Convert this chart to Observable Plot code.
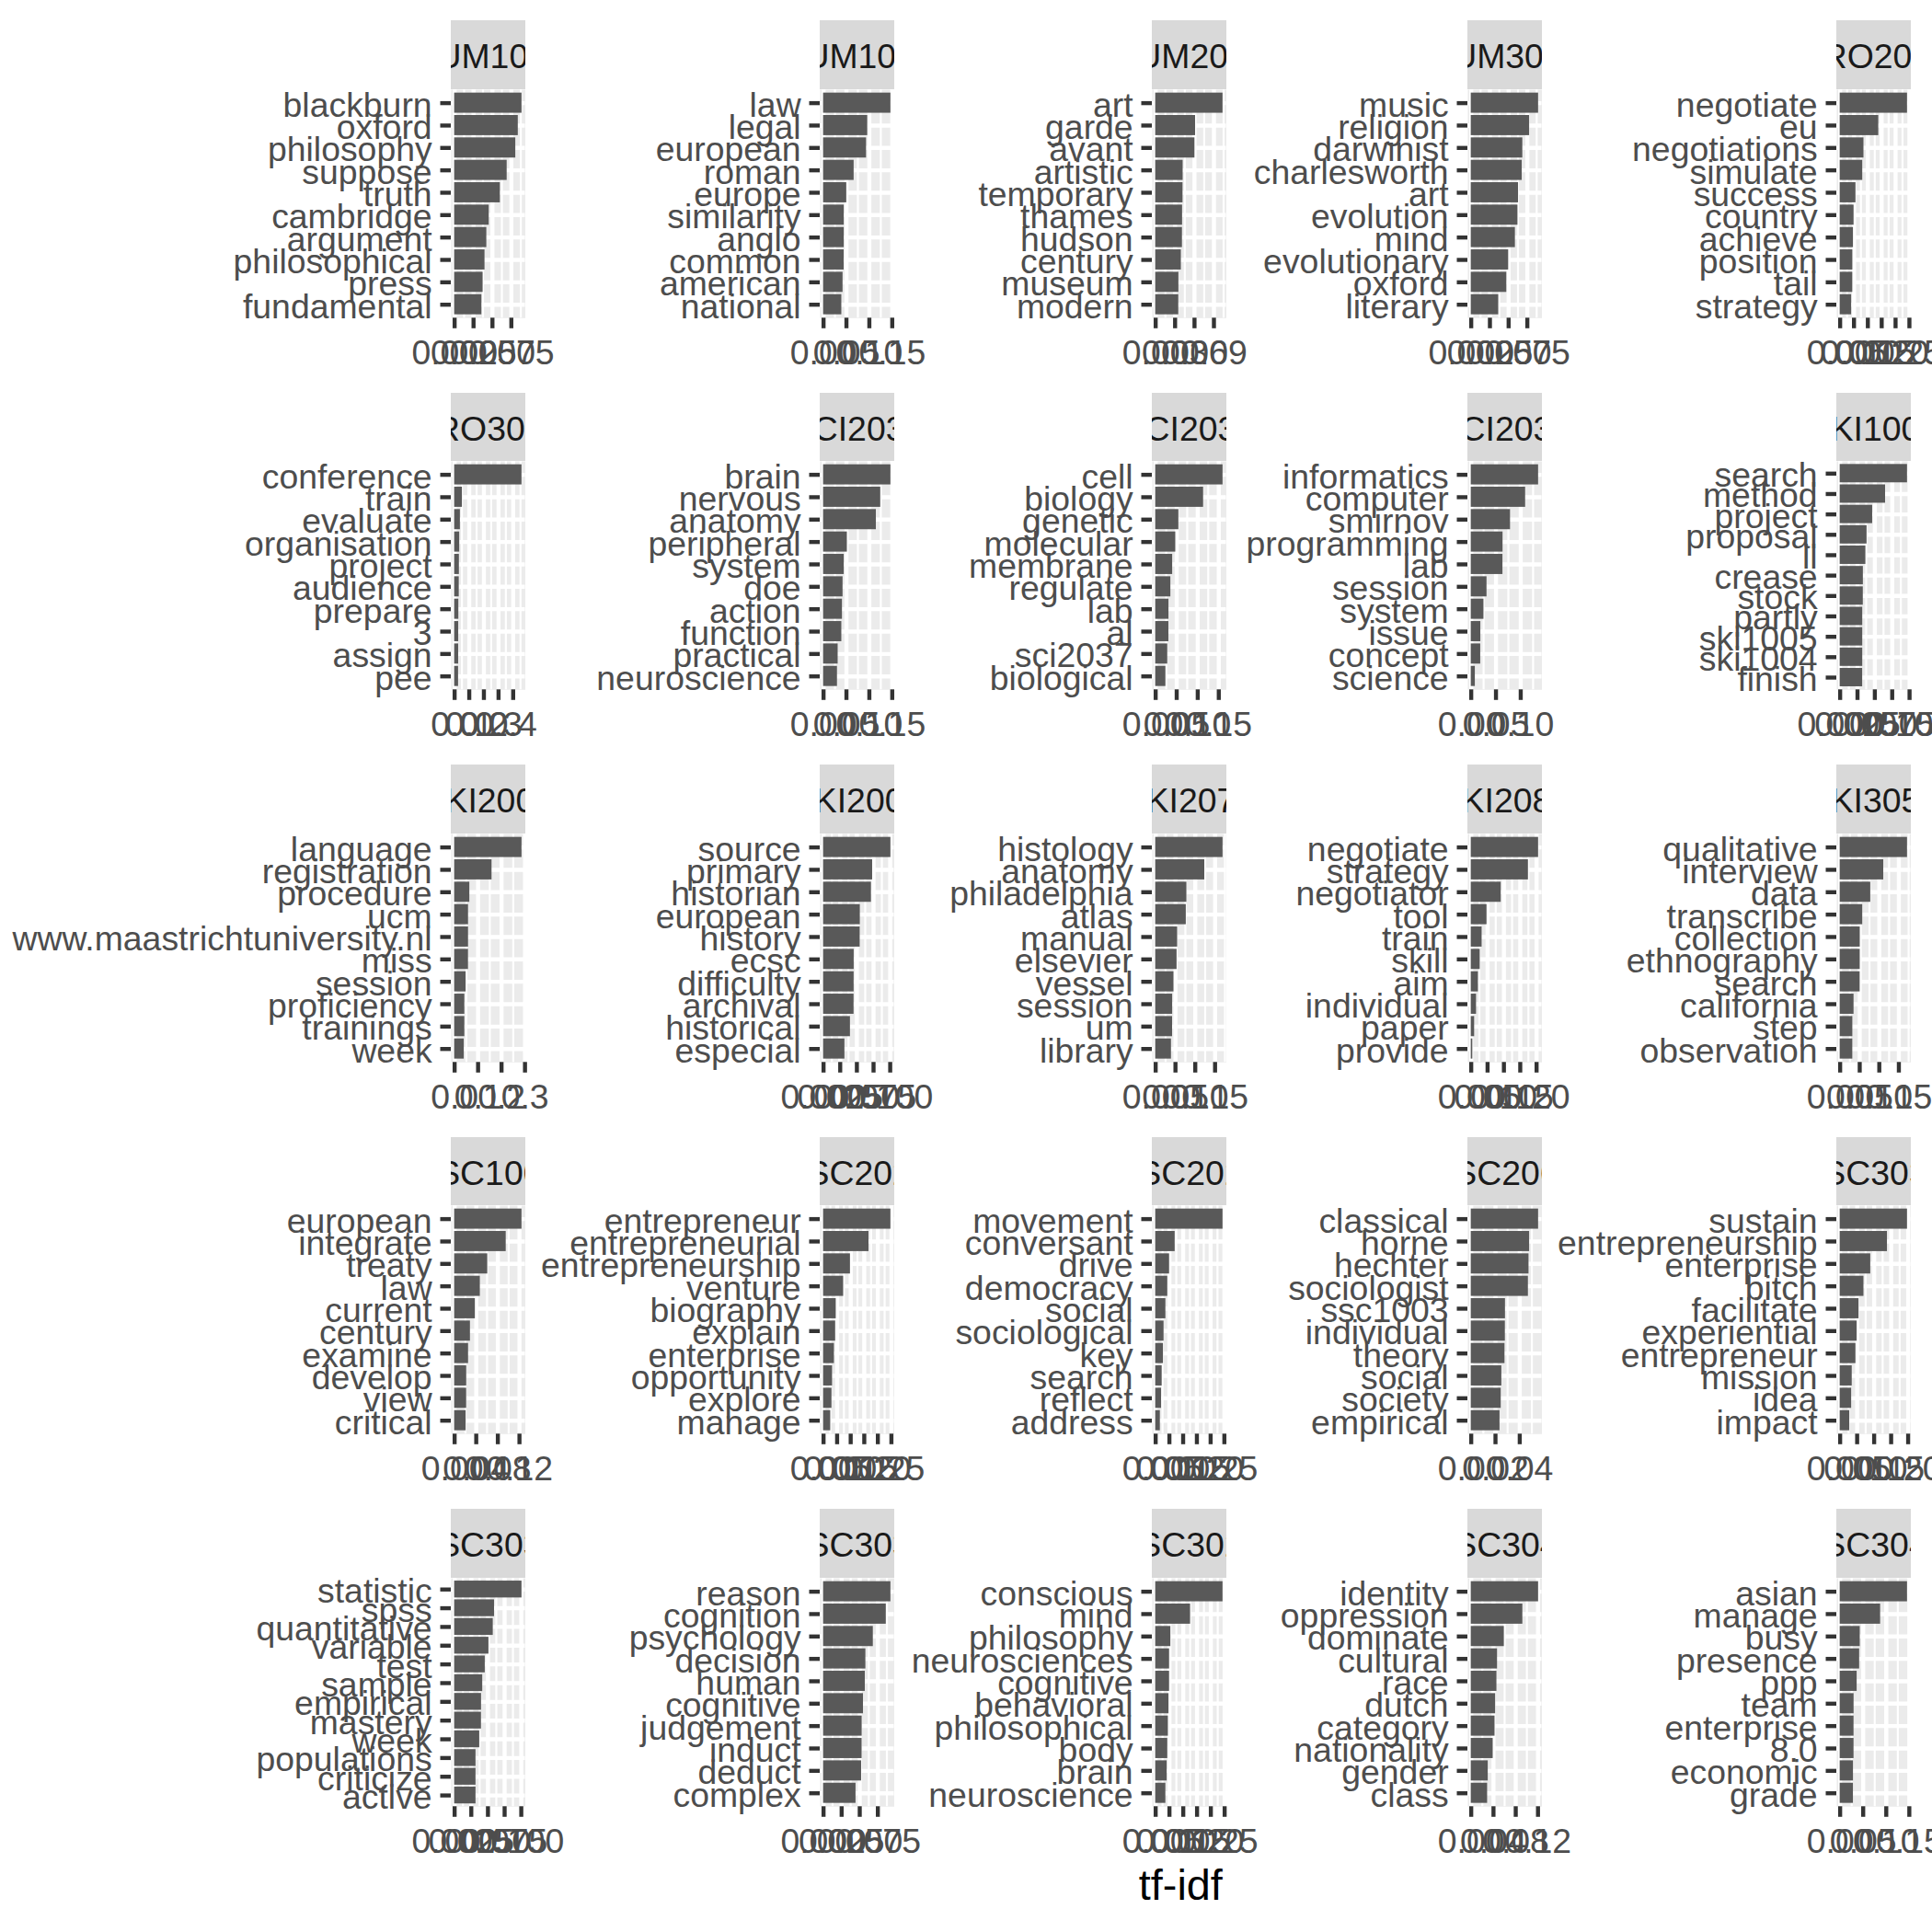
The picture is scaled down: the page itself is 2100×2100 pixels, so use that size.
<!DOCTYPE html>
<html><head><meta charset="utf-8">
<script src="https://cdn.jsdelivr.net/npm/d3@7"></script>
<script src="https://cdn.jsdelivr.net/npm/@observablehq/plot@0.6"></script>
<style>
html,body{margin:0;padding:0;background:#fff;}
#chart{position:relative;width:2100px;height:2100px;overflow:hidden;font-family:"Liberation Sans",Arial,sans-serif;}
.strip{position:absolute;background:#D9D9D9;overflow:hidden;}
.strip span{position:absolute;left:50%;top:calc(50% + 3px);transform:translate(-50%,-50%);white-space:nowrap;font-size:37.4px;color:#1A1A1A;line-height:1;}
.panel{position:absolute;}
.panel svg{max-width:none;overflow:visible;}
.xtitle{position:absolute;font-size:46.8px;color:#000;transform:translate(-50%,-50%);white-space:nowrap;line-height:1;}
</style></head>
<body><div id="chart"></div>
<script>
// ---- data ----
const facets = [
  "HUM1011","HUM1013","HUM2007","HUM3034","PRO2011",
  "PRO3012","SCI2033","SCI2035","SCI2039","SKI1008",
  "SKI2001","SKI2002","SKI2074","SKI2084","SKI3051",
  "SSC1009","SSC2025","SSC2029","SSC2061","SSC3033",
  "SSC3032","SSC3036","SSC3023","SSC3044","SSC3049"
];

const words = [
  ["blackburn","oxford","philosophy","suppose","truth","cambridge","argument","philosophical","press","fundamental"],
  ["law","legal","european","roman","europe","similarity","anglo","common","american","national"],
  ["art","garde","avant","artistic","temporary","thames","hudson","century","museum","modern"],
  ["music","religion","darwinist","charlesworth","art","evolution","mind","evolutionary","oxford","literary"],
  ["negotiate","eu","negotiations","simulate","success","country","achieve","position","tail","strategy"],
  ["conference","train","evaluate","organisation","project","audience","prepare","3","assign","pee"],
  ["brain","nervous","anatomy","peripheral","system","doe","action","function","practical","neuroscience"],
  ["cell","biology","genetic","molecular","membrane","regulate","lab","al","sci2037","biological"],
  ["informatics","computer","smirnov","programming","lab","session","system","issue","concept","science"],
  ["search","method","project","proposal","ll","crease","stock","partly","ski1005","ski1004","finish"],
  ["language","registration","procedure","ucm","www.maastrichtuniversity.nl","miss","session","proficiency","trainings","week"],
  ["source","primary","historian","european","history","ecsc","difficulty","archival","historical","especial"],
  ["histology","anatomy","philadelphia","atlas","manual","elsevier","vessel","session","um","library"],
  ["negotiate","strategy","negotiator","tool","train","skill","aim","individual","paper","provide"],
  ["qualitative","interview","data","transcribe","collection","ethnography","search","california","step","observation"],
  ["european","integrate","treaty","law","current","century","examine","develop","view","critical"],
  ["entrepreneur","entrepreneurial","entrepreneurship","venture","biography","explain","enterprise","opportunity","explore","manage"],
  ["movement","conversant","drive","democracy","social","sociological","key","search","reflect","address"],
  ["classical","horne","hechter","sociologist","ssc1003","individual","theory","social","society","empirical"],
  ["sustain","entrepreneurship","enterprise","bitch","facilitate","experiential","entrepreneur","mission","idea","impact"],
  ["statistic","spss","quantitative","variable","test","sample","empirical","mastery","week","populations","criticize","active"],
  ["reason","cognition","psychology","decision","human","cognitive","judgement","induct","deduct","complex"],
  ["conscious","mind","philosophy","neurosciences","cognitive","behavioral","philosophical","body","brain","neuroscience"],
  ["identity","oppression","dominate","cultural","race","dutch","category","nationality","gender","class"],
  ["asian","manage","busy","presence","ppp","team","enterprise","8.0","economic","grade"]
];

const values = [
  [0.0890,0.0841,0.0808,0.0694,0.0604,0.0457,0.0425,0.0401,0.0376,0.0360],
  [0.1470,0.0964,0.0938,0.0667,0.0506,0.0451,0.0451,0.0449,0.0425,0.0398],
  [0.1040,0.0616,0.0606,0.0424,0.0422,0.0415,0.0413,0.0396,0.0358,0.0356],
  [0.0900,0.0780,0.0689,0.0681,0.0632,0.0624,0.0590,0.0500,0.0475,0.0367],
  [0.2430,0.1392,0.0858,0.0814,0.0569,0.0501,0.0479,0.0457,0.0455,0.0413],
  [0.4600,0.0529,0.0391,0.0345,0.0322,0.0313,0.0285,0.0276,0.0274,0.0267],
  [0.1470,0.1248,0.1152,0.0519,0.0451,0.0425,0.0412,0.0398,0.0318,0.0303],
  [0.1600,0.1138,0.0550,0.0477,0.0403,0.0360,0.0315,0.0313,0.0286,0.0242],
  [0.1360,0.1098,0.0793,0.0642,0.0640,0.0318,0.0256,0.0193,0.0191,0.0082],
  [0.0970,0.0654,0.0468,0.0387,0.0370,0.0334,0.0333,0.0325,0.0325,0.0325,0.0324],
  [0.2870,0.1593,0.0646,0.0591,0.0591,0.0589,0.0488,0.0433,0.0433,0.0408],
  [0.1010,0.0736,0.0718,0.0551,0.0549,0.0459,0.0458,0.0457,0.0403,0.0320],
  [0.1700,0.1239,0.0787,0.0772,0.0554,0.0539,0.0461,0.0428,0.0426,0.0398],
  [0.2060,0.1749,0.0917,0.0482,0.0332,0.0274,0.0218,0.0161,0.0103,0.0047],
  [0.1720,0.1113,0.0781,0.0576,0.0513,0.0512,0.0510,0.0354,0.0323,0.0322],
  [0.1246,0.0954,0.0612,0.0475,0.0383,0.0292,0.0257,0.0223,0.0222,0.0212],
  [0.2480,0.1672,0.0990,0.0739,0.0466,0.0444,0.0399,0.0330,0.0308,0.0263],
  [0.2450,0.0708,0.0505,0.0439,0.0370,0.0304,0.0282,0.0235,0.0213,0.0169],
  [0.0555,0.0481,0.0476,0.0471,0.0282,0.0281,0.0278,0.0252,0.0247,0.0237],
  [0.1980,0.1390,0.0899,0.0699,0.0554,0.0499,0.0463,0.0354,0.0337,0.0281],
  [0.1010,0.0598,0.0579,0.0514,0.0459,0.0421,0.0403,0.0402,0.0376,0.0320,0.0320,0.0320],
  [0.0930,0.0866,0.0687,0.0584,0.0576,0.0551,0.0533,0.0532,0.0525,0.0448],
  [0.2440,0.1264,0.0549,0.0503,0.0502,0.0481,0.0459,0.0437,0.0415,0.0368],
  [0.1210,0.0927,0.0594,0.0472,0.0461,0.0438,0.0427,0.0394,0.0305,0.0294],
  [0.1460,0.0877,0.0435,0.0422,0.0368,0.0301,0.0300,0.0300,0.0288,0.0287]
];

const tickLabels = [
  ["0.000","0.025","0.050","0.075"],
  ["0.00","0.05","0.10","0.15"],
  ["0.00","0.03","0.06","0.09"],
  ["0.000","0.025","0.050","0.075"],
  ["0.00","0.05","0.10","0.15","0.20","0.25"],
  ["0.0","0.1","0.2","0.3","0.4"],
  ["0.00","0.05","0.10","0.15"],
  ["0.00","0.05","0.10","0.15"],
  ["0.00","0.05","0.10"],
  ["0.000","0.025","0.050","0.075","0.100"],
  ["0.0","0.1","0.2","0.3"],
  ["0.000","0.025","0.050","0.075","0.100"],
  ["0.00","0.05","0.10","0.15"],
  ["0.00","0.05","0.10","0.15","0.20"],
  ["0.00","0.05","0.10","0.15"],
  ["0.00","0.04","0.08","0.12"],
  ["0.00","0.05","0.10","0.15","0.20","0.25"],
  ["0.00","0.05","0.10","0.15","0.20","0.25"],
  ["0.00","0.02","0.04"],
  ["0.00","0.05","0.10","0.15","0.20"],
  ["0.000","0.025","0.050","0.075","0.100"],
  ["0.000","0.025","0.050","0.075"],
  ["0.00","0.05","0.10","0.15","0.20","0.25"],
  ["0.00","0.04","0.08","0.12"],
  ["0.00","0.05","0.10","0.15"]
];

const xTitle = "tf-idf";

// ---- layout ----
const colLeft = [490, 891.3, 1252.2, 1595.1, 1996.2];
const rowTop = [22, 426.5, 831, 1235.5, 1640];
const panelW = 80.5, stripH = 74.7, panelH = 248.3;
const mL = 480, mR = 90, mB = 90;
const FS = 37.4;

const chart = document.getElementById("chart");

facets.forEach((code, i) => {
  const col = i % 5, row = Math.floor(i / 5);
  const left = colLeft[col], top = rowTop[row];

  // strip
  const strip = document.createElement("div");
  strip.className = "strip";
  strip.style.left = left + "px";
  strip.style.top = top + "px";
  strip.style.width = panelW + "px";
  strip.style.height = stripH + "px";
  const sp = document.createElement("span");
  sp.textContent = code;
  strip.appendChild(sp);
  chart.appendChild(strip);

  const w = words[i];
  const rows = w.map((word, k) => ({word, value: values[i][k]}));
  const maxV = d3.max(values[i]);
  const domain = [-0.05 * maxV, 1.05 * maxV];
  const majors = tickLabels[i].map(Number);
  const labelOf = new Map(majors.map((v, k) => [v, tickLabels[i][k]]));
  const step = majors[1] - majors[0];
  const minors = [majors[0] - step / 2, ...majors.map(v => v + step / 2)]
    .filter(v => v >= domain[0] && v <= domain[1]);

  const svg = Plot.plot({
    width: mL + panelW + mR,
    height: panelH + mB,
    marginLeft: mL,
    marginRight: mR,
    marginTop: 0,
    marginBottom: mB,
    x: {domain, axis: null},
    y: {type: "band", domain: w, paddingInner: 0.1, paddingOuter: 0.15, round: false, axis: null},
    style: {fontFamily: '"Liberation Sans", Arial, sans-serif', fontSize: FS + "px", background: "transparent", overflow: "visible"},
    marks: [
      Plot.frame({fill: "#EBEBEB", stroke: null}),
      Plot.ruleX(minors, {stroke: "#FFFFFF", strokeWidth: 2.2}),
      Plot.ruleX(majors, {stroke: "#FFFFFF", strokeWidth: 4.4}),
      Plot.ruleY(w, {y: d => d, stroke: "#FFFFFF", strokeWidth: 4.4}),
      Plot.barX(rows, {x: "value", y: "word", fill: "#595959"}),
      Plot.axisX({ticks: majors, tickFormat: d => labelOf.get(d), tickSize: 11.5, tickPadding: 12,
        stroke: "#333333", strokeWidth: 4.4, fill: "#4D4D4D", fontSize: FS, label: null}),
      Plot.axisY({tickSize: 11.5, tickPadding: 9.35, stroke: "#333333", strokeWidth: 4.4,
        fill: "#4D4D4D", fontSize: FS, label: null}),
    ]
  });

  // nudge y tick labels slightly down to match ggplot's vertical text centring
  svg.querySelectorAll('[aria-label="y-axis tick label"] text').forEach(el => {
    el.setAttribute("dy", (parseFloat(el.getAttribute("dy") || "0") + 2.5).toString());
  });

  const holder = document.createElement("div");
  holder.className = "panel";
  holder.style.left = (left - mL) + "px";
  holder.style.top = (top + stripH) + "px";
  holder.appendChild(svg);
  chart.appendChild(holder);
});

const t = document.createElement("div");
t.className = "xtitle";
t.textContent = xTitle;
t.style.left = ((colLeft[0] + colLeft[4] + panelW) / 2) + "px";
t.style.top = "2049px";
chart.appendChild(t);
</script>
</body></html>
